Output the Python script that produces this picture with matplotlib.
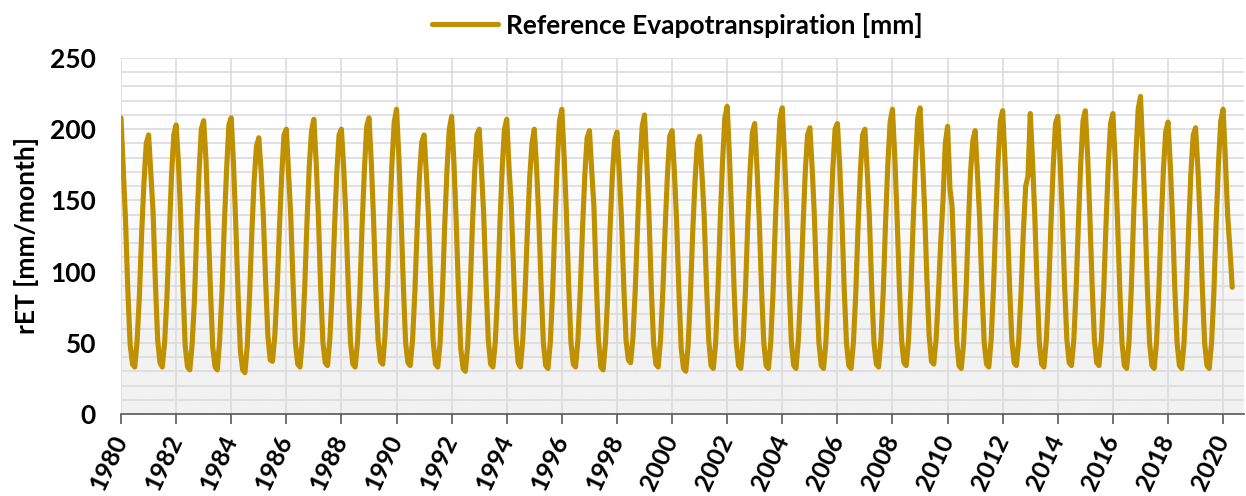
import numpy as np
import pandas as pd
import matplotlib.pyplot as plt
import matplotlib.dates as mdates
from matplotlib.ticker import MultipleLocator
from matplotlib.colors import LinearSegmentedColormap

plt.rcParams['font.family'] = ['Lato', 'DejaVu Sans']
plt.rcParams['font.weight'] = 'bold'

first_month = '1980-01-01'
series_label = 'Reference Evapotranspiration [mm]'
y_label = 'rET [mm/month]'

# monthly rET [mm/month], one row per year (Jan..Dec), last row ends May 2020
ret_mm = [
    208, 170, 136, 86, 49, 35, 33, 51, 83, 127, 163, 190,   # 1980
    196, 168, 142, 92, 52, 36, 33, 50, 82, 125, 168, 196,   # 1981
    203, 176, 140, 90, 48, 33, 31, 49, 80, 130, 170, 200,   # 1982
    206, 178, 135, 87, 47, 33, 31, 52, 86, 132, 172, 203,   # 1983
    208, 175, 134, 84, 45, 31, 29, 48, 84, 128, 165, 188,   # 1984
    194, 170, 140, 94, 55, 38, 37, 55, 88, 130, 168, 196,   # 1985
    200, 168, 138, 90, 50, 35, 33, 52, 88, 134, 174, 199,   # 1986
    207, 176, 140, 88, 50, 36, 34, 53, 86, 130, 170, 196,   # 1987
    200, 172, 138, 89, 50, 35, 33, 50, 84, 132, 172, 202,   # 1988
    208, 176, 138, 88, 52, 37, 35, 55, 90, 136, 176, 205,   # 1989
    214, 180, 140, 90, 50, 36, 34, 52, 86, 130, 168, 191,   # 1990
    196, 168, 138, 90, 51, 35, 33, 50, 85, 132, 172, 200,   # 1991
    209, 176, 136, 86, 46, 32, 30, 48, 84, 130, 170, 196,   # 1992
    200, 170, 140, 92, 52, 35, 33, 50, 84, 132, 172, 200,   # 1993
    207, 172, 148, 100, 55, 36, 33, 52, 86, 128, 166, 190,  # 1994
    200, 172, 138, 90, 50, 34, 32, 50, 86, 134, 176, 206,   # 1995
    214, 180, 142, 90, 50, 35, 33, 52, 86, 130, 168, 194,   # 1996
    199, 170, 146, 94, 52, 33, 31, 50, 84, 130, 168, 192,   # 1997
    198, 168, 138, 90, 52, 38, 36, 54, 88, 132, 174, 202,   # 1998
    210, 176, 140, 88, 50, 35, 33, 52, 86, 130, 168, 195,   # 1999
    199, 170, 136, 86, 46, 32, 30, 48, 84, 128, 164, 190,   # 2000
    195, 168, 140, 92, 52, 34, 32, 50, 88, 136, 178, 208,   # 2001
    216, 180, 140, 90, 50, 34, 32, 52, 88, 134, 172, 198,   # 2002
    204, 172, 138, 88, 50, 34, 32, 50, 86, 134, 176, 208,   # 2003
    215, 180, 142, 90, 50, 34, 32, 52, 86, 130, 170, 196,   # 2004
    201, 172, 140, 90, 50, 34, 32, 50, 86, 132, 172, 200,   # 2005
    204, 174, 138, 88, 50, 34, 32, 50, 84, 130, 170, 196,   # 2006
    200, 170, 138, 88, 50, 35, 33, 52, 86, 134, 176, 205,   # 2007
    214, 180, 140, 90, 52, 36, 34, 52, 88, 134, 176, 208,   # 2008
    215, 180, 145, 95, 55, 37, 35, 52, 84, 120, 150, 190,   # 2009
    202, 158, 146, 98, 52, 34, 32, 50, 84, 130, 170, 192,   # 2010
    199, 168, 138, 88, 50, 35, 33, 52, 88, 136, 178, 206,   # 2011
    213, 178, 140, 90, 52, 36, 34, 52, 86, 128, 160, 167,   # 2012
    211, 176, 140, 90, 50, 35, 33, 52, 86, 132, 174, 204,   # 2013
    209, 176, 140, 90, 52, 36, 34, 52, 88, 134, 176, 206,   # 2014
    213, 180, 140, 90, 52, 36, 34, 52, 86, 132, 174, 204,   # 2015
    211, 178, 138, 88, 50, 34, 32, 50, 88, 138, 182, 214,   # 2016
    223, 184, 142, 90, 50, 34, 32, 50, 86, 132, 172, 198,   # 2017
    205, 174, 138, 88, 50, 34, 32, 50, 84, 130, 170, 196,   # 2018
    201, 172, 138, 88, 50, 34, 32, 50, 86, 134, 176, 206,   # 2019
    214, 178, 140, 115, 89,                                 # 2020
]

months = pd.date_range(first_month, periods=len(ret_mm), freq='MS')

line_color = '#BF9000'
grid_color = '#DCDCDC'

W, H = 1246, 496
fig = plt.figure(figsize=(W / 100, H / 100), dpi=100)
ax = fig.add_axes([121 / W, 1 - 414 / H, (1244 - 121) / W, (414 - 58) / H])

x0 = mdates.date2num(pd.Timestamp('1980-01-01'))
x1 = mdates.date2num(pd.Timestamp('2020-10-04'))

# plot-area gradient: white near the top, light grey near the bottom
yy = np.linspace(0, 250, 256)
shade = np.clip((200 - yy) / 150, 0, 1)[:, None]
cmap = LinearSegmentedColormap.from_list('bg', ['#FFFFFF', '#F2F2F2'])
ax.imshow(shade, extent=[x0, x1, 0, 250], origin='lower', aspect='auto',
          cmap=cmap, vmin=0, vmax=1, zorder=0, interpolation='bilinear')

ax.plot(months, ret_mm, color=line_color, lw=3.7, solid_joinstyle='round',
        solid_capstyle='round', label=series_label, zorder=3)

ax.set_xlim(x0, x1)
ax.set_ylim(0, 250)
ax.xaxis.set_major_locator(mdates.YearLocator(2))
ax.xaxis.set_major_formatter(mdates.DateFormatter('%Y'))
ax.set_yticks(range(0, 251, 50))
ax.yaxis.set_minor_locator(MultipleLocator(10))

ax.grid(True, which='both', axis='y', color=grid_color, lw=1.2, zorder=1)
ax.grid(True, which='major', axis='x', color=grid_color, lw=1.2, zorder=1)
ax.set_axisbelow(True)

for s in ['top', 'right', 'left']:
    ax.spines[s].set_visible(False)
ax.spines['bottom'].set_color('#595959')
ax.spines['bottom'].set_linewidth(1.2)
ax.spines['bottom'].set_zorder(4)

ax.tick_params(axis='y', which='both', length=0, labelsize=19, pad=18)
ax.tick_params(axis='x', which='major', length=7, width=1.2, color='#595959',
               direction='out', labelsize=18, pad=9)
for lab in ax.get_xticklabels():
    lab.set_rotation(65)
    lab.set_ha('right')
    lab.set_va('center')
    lab.set_rotation_mode('anchor')

ax.set_ylabel(y_label, fontsize=19, fontweight='bold', labelpad=8)

fig.legend(loc='center', bbox_to_anchor=(677 / W, 1 - 25 / H), frameon=False,
           fontsize=19, handlelength=2.5, handletextpad=0.3)

fig.savefig('out.png', dpi=100)
